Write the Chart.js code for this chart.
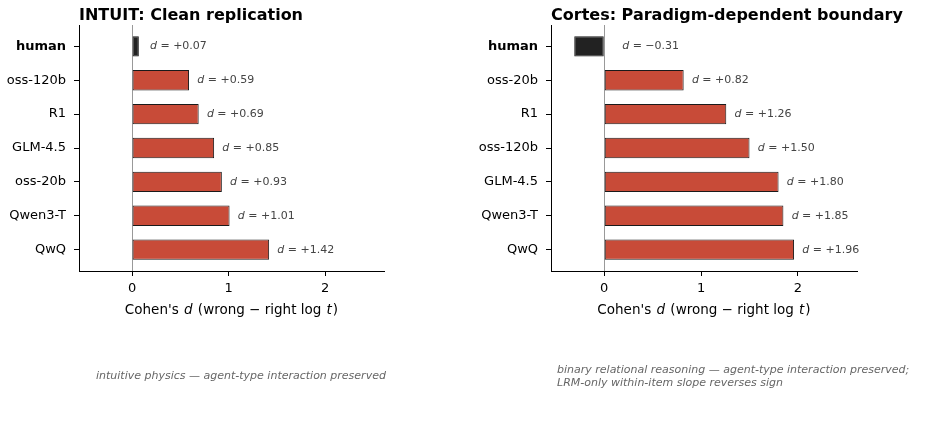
<!DOCTYPE html>
<html>
<head>
<meta charset="utf-8">
<script src="https://cdn.jsdelivr.net/npm/chart.js@4.4.1/dist/chart.umd.min.js"></script>
<style>
  html, body { margin: 0; padding: 0; background: #fff; }
  #wrap { position: relative; width: 926px; height: 422px; overflow: hidden; }
  canvas { position: absolute; top: 0; }
</style>
</head>
<body>
<div id="wrap">
  <canvas id="c1" width="463" height="422" style="left:0px"></canvas>
  <canvas id="c2" width="463" height="422" style="left:463px"></canvas>
</div>
<script>
// ---- data ----
const categoriesIntuit = ['human', 'oss-120b', 'R1', 'GLM-4.5', 'oss-20b', 'Qwen3-T', 'QwQ'];
const valuesIntuit = [0.07, 0.59, 0.69, 0.85, 0.93, 1.01, 1.42];
const categoriesCortes = ['human', 'oss-20b', 'R1', 'oss-120b', 'GLM-4.5', 'Qwen3-T', 'QwQ'];
const valuesCortes = [-0.31, 0.82, 1.26, 1.50, 1.80, 1.85, 1.96];
const xTickValues = [0, 1, 2];
const titleIntuit = 'INTUIT: Clean replication';
const titleCortes = 'Cortes: Paradigm-dependent boundary';
const captionIntuit = ['intuitive physics \u2014 agent-type interaction preserved'];
const captionCortes = ['binary relational reasoning \u2014 agent-type interaction preserved;',
                       'LRM-only within-item slope reverses sign'];

const FONT = "'DejaVu Sans', 'Liberation Sans', sans-serif";
const RED = '#c84b38';
const HUMAN = '#222222';

function drawRich(ctx, parts, x, y, align) {
  let total = 0;
  const widths = parts.map(p => { ctx.font = p.font; const w = ctx.measureText(p.t).width + (p.extra || 0); total += w; return w; });
  let cx = align === 'center' ? x - total / 2 : (align === 'right' ? x - total : x);
  ctx.textAlign = 'left';
  parts.forEach((p, i) => { ctx.font = p.font; ctx.fillStyle = p.color; ctx.fillText(p.t, cx + (p.lead || 0), y); cx += widths[i]; });
}

function fmt(v) { return (v >= 0 ? '+' : '\u2212') + Math.abs(v).toFixed(2); }

function makeChart(id, cats, vals, title, caption, pad, yWidth, capX, capY) {
  const decor = {
    id: 'decor' + id,
    beforeDatasetsDraw(chart) {
      const ctx = chart.ctx, xs = chart.scales.x, a = chart.chartArea;
      const x0 = Math.round(xs.getPixelForValue(0)) + 0.5;
      ctx.save();
      ctx.strokeStyle = '#999999';
      ctx.lineWidth = 1;
      ctx.beginPath(); ctx.moveTo(x0, a.top); ctx.lineTo(x0, a.bottom); ctx.stroke();
      ctx.restore();
    },
    afterDraw(chart) {
      const ctx = chart.ctx, xs = chart.scales.x, ys = chart.scales.y, a = chart.chartArea;
      ctx.save();
      // title
      ctx.textBaseline = 'alphabetic';
      ctx.font = 'bold 16px ' + FONT; ctx.fillStyle = '#000'; ctx.textAlign = 'left';
      ctx.fillText(title, a.left, 20);
      // annotations
      ctx.textBaseline = 'middle';
      vals.forEach((v, i) => {
        const tx = xs.getPixelForValue(Math.max(v, 0.1) + 0.085);
        const ty = ys.getPixelForValue(i);
        drawRich(ctx, [
          { t: 'd', font: 'italic 11px ' + FONT, color: '#444' },
          { t: ' = ' + fmt(v), font: '11px ' + FONT, color: '#444' }
        ], tx, ty, 'left');
      });
      // x axis label
      ctx.textBaseline = 'alphabetic';
      const n = '13.5px ' + FONT, it = 'italic 13.5px ' + FONT;
      drawRich(ctx, [
        { t: "Cohen's ", font: n, color: '#000' },
        { t: 'd', font: it, color: '#000', extra: 2, lead: 1 },
        { t: ' (wrong \u2212 right log ', font: n, color: '#000' },
        { t: 't', font: it, color: '#000', extra: 2, lead: 1 },
        { t: ')', font: n, color: '#000' }
      ], (a.left + a.right) / 2, 313.5, 'center');
      // caption
      ctx.font = 'italic 11px ' + FONT; ctx.fillStyle = '#666'; ctx.textAlign = 'left'; ctx.textBaseline = 'middle';
      caption.forEach((line, k) => ctx.fillText(line, capX, capY + k * 13));
      ctx.restore();
    }
  };
  return new Chart(document.getElementById(id), {
    type: 'bar',
    data: {
      datasets: [{
        data: vals.map((v, i) => ({ x: v, y: i })),
        backgroundColor: cats.map(c => c === 'human' ? HUMAN : RED),
        borderColor: '#1a1a1a',
        borderWidth: 1,
        borderSkipped: false,
        barPercentage: 0.6,
        categoryPercentage: 1.0
      }]
    },
    options: {
      responsive: false,
      animation: false,
      indexAxis: 'y',
      layout: { padding: pad },
      plugins: { legend: { display: false }, tooltip: { enabled: false }, title: { display: false } },
      scales: {
        x: {
          type: 'linear', min: -0.55, max: 2.61, offset: false,
          afterBuildTicks: s => { s.ticks = xTickValues.map(v => ({ value: v })); },
          afterFit: s => { s.height = 50; },
          grid: { display: true, offset: false, drawOnChartArea: false, drawTicks: true, tickLength: 5, color: '#000', tickWidth: 1 },
          border: { display: true, color: '#000', width: 1 },
          ticks: { color: '#000', font: { family: FONT, size: 13 }, padding: 5, maxRotation: 0,
                   callback: v => String(v) }
        },
        y: {
          type: 'linear', min: -0.63, max: 6.63, reverse: true, offset: false,
          afterBuildTicks: s => { s.ticks = cats.map((c, i) => ({ value: i })); },
          afterFit: s => { s.width = yWidth; },
          grid: { display: true, offset: false, drawOnChartArea: false, drawTicks: true, tickLength: 5, color: '#000', tickWidth: 1 },
          border: { display: true, color: '#000', width: 1 },
          ticks: {
            color: '#000', padding: 8, autoSkip: false,
            font: ctx => ({ family: FONT, size: 13, weight: (cats[ctx.index] === 'human') ? 'bold' : 'normal' }),
            callback: (v, i) => cats[i]
          }
        }
      }
    },
    plugins: [decor]
  });
}

makeChart('c1', categoriesIntuit, valuesIntuit, titleIntuit, captionIntuit,
  { left: 0, right: 79, top: 25, bottom: 101 }, 79, 96, 376);
makeChart('c2', categoriesCortes, valuesCortes, titleCortes, captionCortes,
  { left: 0, right: 69, top: 25, bottom: 101 }, 88, 94, 370);
</script>
</body>
</html>
